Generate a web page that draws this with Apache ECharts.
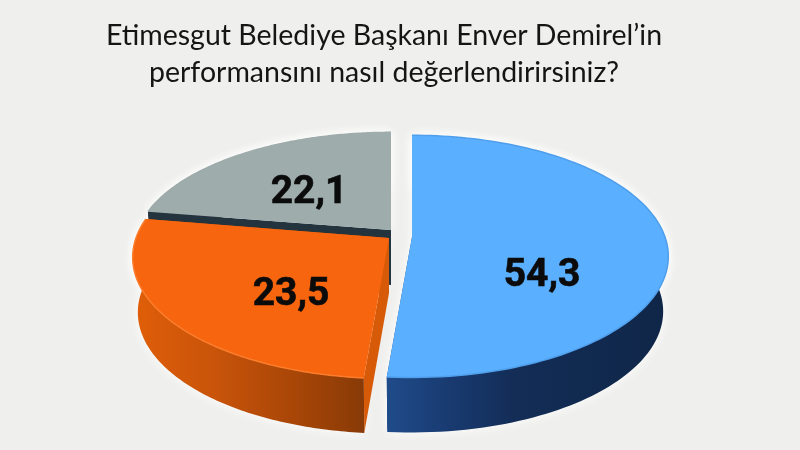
<!DOCTYPE html>
<html><head><meta charset="utf-8">
<style>html,body{margin:0;padding:0;background:#efefed}#c{width:800px;height:450px}</style>
<script src="https://cdn.jsdelivr.net/npm/echarts@6/dist/echarts.min.js"></script>
</head><body><div id="c"></div>
<script>
const titleLines = ["Etimesgut Belediye Başkanı Enver Demirel’in", "performansını nasıl değerlendirirsiniz?"];
const values = [54.3, 23.5, 22.1];

const topColors = ['#5bafff', '#f7650f', '#9eacab'];
const rimColors = ['#4f9fec', '#fb7d2c', '#9eacab'];
const wallStops = [
  [[0, '#1f4c8a'], [0.2, '#193c73'], [0.45, '#132d57'], [1, '#0f2647']],
  [[0, '#e05e08'], [0.35, '#c9540a'], [0.7, '#a84607'], [1, '#883a07']],
  [[0, '#24343e'], [1, '#24343e']]
];
const innerWalls = ['#1a4a8e', '#d65a08', '#24343e'];
const pivots = [[412, 237], [389, 238], [391, 230]];
const depthScale = [1, 1, 0.96];
const labelShift = [[130, 39], [-98, 57], [-82, -37]];

const RX = 253, RY = 118, K = 0.16, DEPTH = 55, BOTTOM_SCALE = 0.98, SKEW = 11.5;
const total = values.reduce((a, b) => a + b, 0);
const starts = values.map((_, i) => values.slice(0, i).reduce((a, b) => a + b, 0) / total * 360);

// the source drawing compresses the near side of its disc a little
function warp(deg) {
  const t = deg * Math.PI / 180;
  return deg - SKEW * Math.pow((1 - Math.cos(t)) / 2, 3);
}
function project(i, deg, low) {
  const p = pivots[i];
  const t = warp(deg) * Math.PI / 180;
  const X = Math.sin(t), Y = -Math.cos(t), s = 1 / (1 - K * Y);
  const b = low ? BOTTOM_SCALE : 1;
  return [p[0] + RX * X * s * b, p[1] + RY * depthScale[i] * Y * s + (low ? DEPTH : 0)];
}
function arc(i, a, b, low) {
  const out = [], n = 120;
  for (let j = 0; j <= n; j++) out.push(project(i, a + (b - a) * j / n, low));
  return out;
}
function span(i, v) { return [starts[i], starts[i] + v / total * 360]; }

function renderHalo(params, api) {
  const i = api.value(0), [a, b] = span(i, api.value(1));
  const top = arc(i, a, b, false), bot = arc(i, a, b, true);
  return {
    type: 'group', children: [
      { type: 'polygon', shape: { points: top.concat(bot.slice().reverse()) },
        style: { fill: '#f7f7f6', shadowColor: 'rgba(255,255,255,0.95)', shadowBlur: 12 } },
      { type: 'polygon', shape: { points: [pivots[i]].concat(top) },
        style: { fill: '#f7f7f6', shadowColor: 'rgba(255,255,255,0.95)', shadowBlur: 12 } }
    ]
  };
}

function renderItem(params, api) {
  const i = api.value(0), v = api.value(1);
  const [a, b] = span(i, v), p = pivots[i];
  const top = arc(i, a, b, false), bot = arc(i, a, b, true);
  const pLow = [p[0], p[1] + DEPTH];
  const grad = new echarts.graphic.LinearGradient(0, 0, 1, 0,
    wallStops[i].map(s => ({ offset: s[0], color: s[1] })));
  const children = [
    { type: 'polygon', shape: { points: [p, pLow, bot[0], top[0]] }, style: { fill: innerWalls[i] } },
    { type: 'polygon', shape: { points: [p, pLow, bot[bot.length - 1], top[top.length - 1]] }, style: { fill: innerWalls[i] } },
    { type: 'polygon', shape: { points: top.concat(bot.slice().reverse()) }, style: { fill: grad } },
    { type: 'polygon', shape: { points: [p].concat(top) }, style: { fill: topColors[i] } },
    { type: 'polyline', shape: { points: top }, style: { fill: 'none', stroke: rimColors[i], lineWidth: 1.5 } },
    { type: 'text', x: p[0] + labelShift[i][0], y: p[1] + labelShift[i][1],
      style: { text: v.toFixed(1).replace('.', ','), fill: '#0b0b0b', stroke: '#0b0b0b', lineWidth: 0.6,
        fontFamily: 'Roboto', fontWeight: 'bold', fontSize: 39, align: 'center', verticalAlign: 'middle' } }
  ];
  return { type: 'group', children };
}

const chart = echarts.init(document.getElementById('c'), null, { renderer: 'canvas' });
const rows = values.map((v, i) => [i, v]).reverse();
chart.setOption({
  animation: false,
  backgroundColor: '#efefed',
  title: {
    text: titleLines.join('\n'), left: 379, top: 12, textAlign: 'center',
    textStyle: { fontFamily: 'Lato', fontWeight: 'normal', fontSize: 28.5, lineHeight: 37.5, color: '#151515' }
  },
  series: [
    { type: 'custom', coordinateSystem: 'none', renderItem: renderHalo, data: rows, z: 1, silent: true },
    { type: 'custom', coordinateSystem: 'none', renderItem, data: rows, z: 2 }
  ]
});
</script></body></html>
